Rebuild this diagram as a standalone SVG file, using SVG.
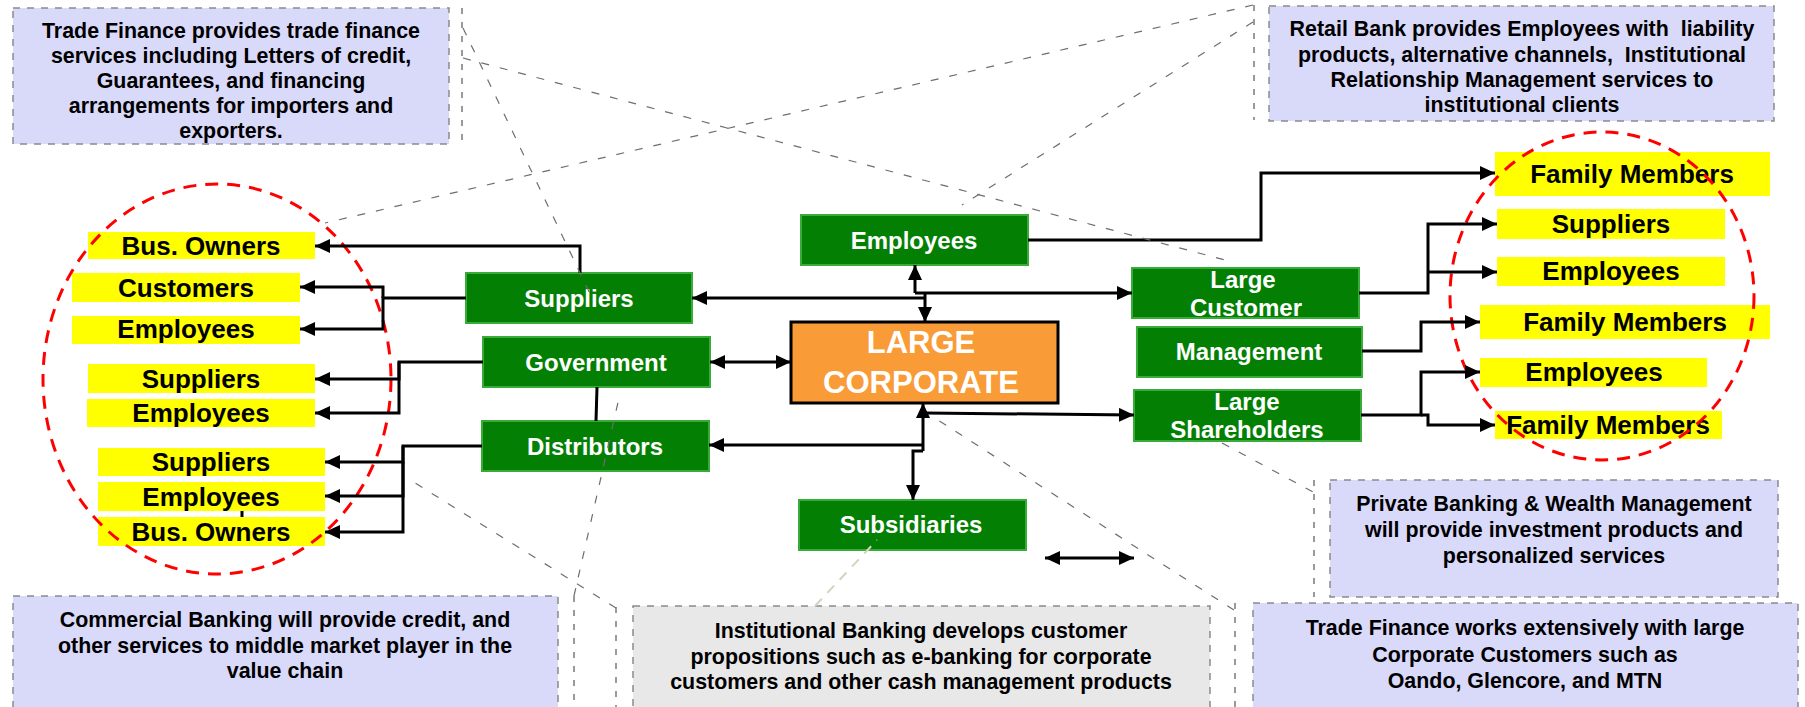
<svg xmlns="http://www.w3.org/2000/svg" width="1805" height="707" viewBox="0 0 1805 707">
<defs>
  <marker id="ah" viewBox="0 0 15 14" refX="15" refY="7" markerWidth="15" markerHeight="14" markerUnits="userSpaceOnUse" orient="auto-start-reverse">
    <path d="M0,0 L15,7 L0,14 z" fill="#000"/>
  </marker>
  <style>
    .note{fill:#d9d9fa;stroke:#8a8a8a;stroke-width:1.5;stroke-dasharray:7 7}
    .note-grey{fill:#e8e8e8;stroke:#8a8a8a;stroke-width:1.5;stroke-dasharray:7 7}
    .nt{font-family:"Liberation Sans",Arial,sans-serif;font-weight:bold;font-size:21.4px;text-anchor:middle;fill:#000;white-space:pre}
    .g{fill:#037f03;stroke:#3aaa3a;stroke-width:2}
    .gt{font-family:"Liberation Sans",Arial,sans-serif;font-weight:bold;font-size:24px;text-anchor:middle;fill:#fff}
    .y{fill:#ffff00}
    .yt{font-family:"Liberation Sans",Arial,sans-serif;font-weight:bold;font-size:26px;text-anchor:middle;fill:#000}
    .core{fill:#f99b37;stroke:#000;stroke-width:3}
    .ct{font-family:"Liberation Sans",Arial,sans-serif;font-weight:bold;font-size:31px;text-anchor:middle;fill:#fff}
    .c{fill:none;stroke:#000;stroke-width:3}
    .a{marker-end:url(#ah)}
    .aa{marker-start:url(#ah);marker-end:url(#ah)}
    .lead{fill:none;stroke:#6e6e6e;stroke-width:1.2;stroke-dasharray:8 11}
    .lead-light{fill:none;stroke:#d6d2c2;stroke-width:2;stroke-dasharray:10 8}
    .bar{fill:none;stroke:#7a7a7a;stroke-width:1.5;stroke-dasharray:6 8}
    .ring{fill:none;stroke:#ff0000;stroke-width:3;stroke-dasharray:13 9}
  </style>
</defs>
<rect width="1805" height="707" fill="#fff"/>

<!-- service callouts -->
<g id="note-trade-finance">
  <rect class="note" x="13" y="8" width="436" height="136"/>
  <text class="nt" x="231" y="38">Trade Finance provides trade finance</text>
  <text class="nt" x="231" y="63">services including Letters of credit,</text>
  <text class="nt" x="231" y="88">Guarantees, and financing</text>
  <text class="nt" x="231" y="113">arrangements for importers and</text>
  <text class="nt" x="231" y="138">exporters.</text>
</g>
<g id="note-retail-bank">
  <rect class="note" x="1269" y="6" width="505" height="115"/>
  <text class="nt" x="1522" y="36">Retail Bank provides Employees with  liability</text>
  <text class="nt" x="1522" y="62">products, alternative channels,  Institutional</text>
  <text class="nt" x="1522" y="87">Relationship Management services to</text>
  <text class="nt" x="1522" y="112">institutional clients</text>
</g>
<g id="note-private-banking">
  <rect class="note" x="1330" y="480" width="448" height="117"/>
  <text class="nt" x="1554" y="511">Private Banking &amp; Wealth Management</text>
  <text class="nt" x="1554" y="537">will provide investment products and</text>
  <text class="nt" x="1554" y="563">personalized services</text>
</g>
<g id="note-commercial-banking">
  <rect class="note" x="13" y="596" width="545" height="120"/>
  <text class="nt" x="285" y="627">Commercial Banking will provide credit, and</text>
  <text class="nt" x="285" y="653">other services to middle market player in the</text>
  <text class="nt" x="285" y="678">value chain</text>
</g>
<g id="note-institutional-banking">
  <rect class="note-grey" x="633" y="606" width="577" height="110"/>
  <text class="nt" x="921" y="638">Institutional Banking develops customer</text>
  <text class="nt" x="921" y="664">propositions such as e-banking for corporate</text>
  <text class="nt" x="921" y="689">customers and other cash management products</text>
</g>
<g id="note-trade-finance-corporate">
  <rect class="note" x="1253" y="603" width="545" height="113"/>
  <text class="nt" x="1525" y="635">Trade Finance works extensively with large</text>
  <text class="nt" x="1525" y="662">Corporate Customers such as</text>
  <text class="nt" x="1525" y="688">Oando, Glencore, and MTN</text>
</g>

<!-- stakeholder groups -->
<g id="left-stakeholders">
  <rect class="y" x="88" y="232" width="227" height="27"/><text class="yt" x="201" y="255">Bus. Owners</text>
  <rect class="y" x="72" y="273" width="228" height="29"/><text class="yt" x="186" y="297">Customers</text>
  <rect class="y" x="72" y="316" width="228" height="28"/><text class="yt" x="186" y="338">Employees</text>
  <rect class="y" x="88" y="364" width="227" height="29"/><text class="yt" x="201" y="388">Suppliers</text>
  <rect class="y" x="87" y="399" width="228" height="28"/><text class="yt" x="201" y="422">Employees</text>
  <rect class="y" x="98" y="448" width="227" height="28"/><text class="yt" x="211" y="471">Suppliers</text>
  <rect class="y" x="98" y="482" width="227" height="29"/><text class="yt" x="211" y="506">Employees</text>
  <rect class="y" x="98" y="517" width="227" height="29"/><text class="yt" x="211" y="541">Bus. Owners</text>
</g>
<g id="right-stakeholders">
  <rect class="y" x="1495" y="152" width="275" height="44"/><text class="yt" x="1632" y="183">Family Members</text>
  <rect class="y" x="1497" y="209" width="228" height="30"/><text class="yt" x="1611" y="233">Suppliers</text>
  <rect class="y" x="1497" y="257" width="228" height="29"/><text class="yt" x="1611" y="280">Employees</text>
  <rect class="y" x="1480" y="305" width="290" height="34"/><text class="yt" x="1625" y="331">Family Members</text>
  <rect class="y" x="1480" y="358" width="227" height="29"/><text class="yt" x="1594" y="381">Employees</text>
  <rect class="y" x="1495" y="411" width="227" height="28"/><text class="yt" x="1608" y="434">Family Members</text>
</g>

<g id="node-employees"><rect class="g" x="801" y="215" width="227" height="50"/><text class="gt" x="914" y="249">Employees</text></g>
<g id="node-suppliers"><rect class="g" x="466" y="273" width="226" height="50"/><text class="gt" x="579" y="307">Suppliers</text></g>
<g id="node-government"><rect class="g" x="483" y="337" width="227" height="50"/><text class="gt" x="596" y="371">Government</text></g>
<g id="node-distributors"><rect class="g" x="482" y="421" width="227" height="50"/><text class="gt" x="595" y="455">Distributors</text></g>
<g id="node-subsidiaries"><rect class="g" x="799" y="500" width="227" height="50"/><text class="gt" x="911" y="533">Subsidiaries</text></g>
<g id="node-large-customer"><rect class="g" x="1132" y="268" width="227" height="50"/><text class="gt" x="1243" y="288">Large</text><text class="gt" x="1246" y="316">Customer</text></g>
<g id="node-management"><rect class="g" x="1137" y="327" width="225" height="50"/><text class="gt" x="1249" y="360">Management</text></g>
<g id="node-large-shareholders"><rect class="g" x="1134" y="390" width="227" height="51"/><text class="gt" x="1247" y="410">Large</text><text class="gt" x="1247" y="438">Shareholders</text></g>
<g id="node-large-corporate"><rect class="core" x="791" y="322" width="267" height="81"/><text class="ct" x="921" y="353">LARGE</text><text class="ct" x="921" y="393">CORPORATE</text></g>

<!-- dashed group outlines -->
<g id="group-rings">
  <ellipse class="ring" cx="217" cy="379" rx="174" ry="195"/>
  <ellipse class="ring" cx="1602" cy="296" rx="152" ry="164"/>
</g>

<!-- relationship connectors -->
<g id="connectors">
  <path class="c a" d="M580,273 V246 H315"/>
  <path class="c a" d="M383,298 V287 H300"/>
  <path class="c a" d="M466,298 H383 V329 H300"/>
  <path class="c a" d="M399,362 V379 H315"/>
  <path class="c a" d="M483,362 H399 V413 H315"/>
  <path class="c a" d="M403,446 V462 H325"/>
  <path class="c a" d="M403,462 V496 H325"/>
  <path class="c a" d="M482,446 H403 V532 H325"/>
  <path class="c" d="M597,387 L596,421"/>
  <path class="c" d="M242,511 V517"/>

  <path class="c a" d="M915,293 V265"/>
  <path class="c a" d="M915,293 H1132"/>
  <path class="c a" d="M925,293 V322"/>
  <path class="c a" d="M925,298 H692"/>
  <path class="c aa" d="M710,362 H791"/>
  <path class="c a" d="M923,451 V403"/>
  <path class="c a" d="M925,413 L1134,415"/>
  <path class="c a" d="M923,445 H709"/>
  <path class="c a" d="M923,451 H913 V500"/>
  <path class="c aa" d="M1045,558 H1134"/>

  <path class="c a" d="M1028,240 H1261 V173 H1495"/>
  <path class="c a" d="M1359,293 H1428 V224 H1497"/>
  <path class="c a" d="M1428,272 H1497"/>
  <path class="c a" d="M1362,351 H1421 V322 H1480"/>
  <path class="c a" d="M1361,415 H1421 V372 H1480"/>
  <path class="c a" d="M1421,415 H1428 V425 H1495"/>
</g>

<!-- callout accent bars and leaders -->
<g id="callout-leaders">
  <path class="bar" d="M462,8 V143"/>
  <path class="bar" d="M1254,5 V120"/>
  <path class="bar" d="M1314,480 V597"/>
  <path class="bar" d="M574,596 V707"/>
  <path class="bar" d="M616,607 V707"/>
  <path class="bar" d="M1235,603 V707"/>
  <path class="lead" d="M463,28 L593,300"/>
  <path class="lead" d="M463,58 L1225,260"/>
  <path class="lead" d="M1253,5 L325,223"/>
  <path class="lead" d="M1253,22 L962,205"/>
  <path class="lead" d="M1222,443 L1313,492"/>
  <path class="lead" d="M1234,610 L930,415"/>
  <path class="lead" d="M574,596 L619,398"/>
  <path class="lead" d="M616,608 L407,478"/>
  <path class="lead-light" d="M815,606 L877,540"/>
</g>
</svg>
